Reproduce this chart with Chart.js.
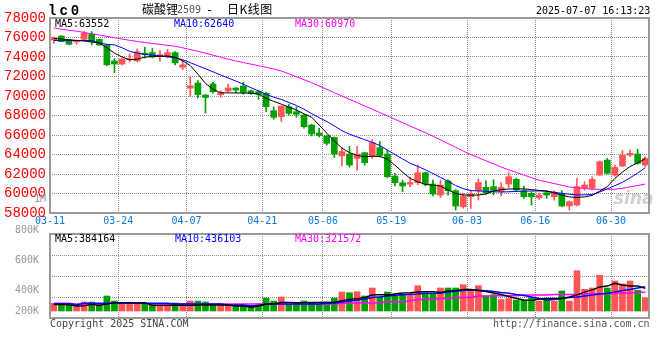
<!DOCTYPE html>
<html><head><meta charset="utf-8">
<script src="https://cdn.jsdelivr.net/npm/chart.js@4.4.1/dist/chart.umd.min.js"></script>
<style>
html,body{margin:0;padding:0;background:#fff;}
#wrap{position:relative;width:660px;height:360px;overflow:hidden;background:#fff;}
canvas{position:absolute;left:0;top:0;}
.t{position:absolute;white-space:pre;font-family:"DejaVu Sans Mono",monospace;font-size:10px;line-height:10px;}
</style></head><body>
<div id="wrap">
<canvas id="k" width="660" height="360"></canvas>
<canvas id="v" width="660" height="360"></canvas>
<div class="t" style="left:48px;top:4px;font:bold 14px 'Liberation Mono',monospace;line-height:14px;letter-spacing:3px;color:#000;">lc0</div>
<div class="t" style="left:142px;top:3px;font:12px 'Noto Sans CJK SC';line-height:12px;color:#000;">碳酸锂</div>
<div class="t" style="left:177px;top:5px;color:#555;">2509</div>
<div class="t" style="left:206px;top:4px;font:12px 'DejaVu Sans Mono';line-height:12px;color:#000;">-</div>
<div class="t" style="left:227px;top:3px;font:12px 'Noto Sans CJK SC';line-height:12px;letter-spacing:0.5px;color:#000;">日K线图</div>
<div class="t" style="left:536px;top:6px;color:#000;">2025-07-07 16:13:23</div>
<div class="t" style="left:55px;top:19px;color:#000;">MA5:63552</div>
<div class="t" style="left:174px;top:19px;color:#0000ff;">MA10:62640</div>
<div class="t" style="left:295px;top:19px;color:#ff00ff;">MA30:60970</div>
<div class="t" style="left:55px;top:234px;color:#000;">MA5:384164</div>
<div class="t" style="left:175px;top:234px;color:#0000ff;">MA10:436103</div>
<div class="t" style="left:295px;top:234px;color:#ff00ff;">MA30:321572</div>
<div class="t" style="left:50px;top:319px;color:#444;">Copyright 2025 SINA.COM</div>
<div class="t" style="left:493px;top:319px;color:#555;">http://finance.sina.com.cn</div>
<div class="t" style="left:614px;top:190px;font:italic bold 17px 'DejaVu Sans';line-height:17px;color:rgba(150,150,150,0.45);">sina</div>
</div>
<script>
const categories = ['03-11','03-12','03-13','03-14','03-17','03-18','03-19','03-20','03-21','03-24','03-25','03-26','03-27','03-28','03-31','04-01','04-02','04-03','04-07','04-08','04-09','04-10','04-11','04-14','04-15','04-16','04-17','04-18','04-21','04-22','04-23','04-24','04-25','04-28','04-29','04-30','05-06','05-07','05-08','05-09','05-12','05-13','05-14','05-15','05-16','05-19','05-20','05-21','05-22','05-23','05-26','05-27','05-28','05-29','05-30','06-03','06-04','06-05','06-06','06-09','06-10','06-11','06-12','06-13','06-16','06-17','06-18','06-19','06-20','06-23','06-24','06-25','06-26','06-27','06-30','07-01','07-02','07-03','07-04'];
const tickDates = ['03-11','03-24','04-07','04-21','05-06','05-19','06-03','06-16','06-30'];

const opens = [75750,76150,75740,75550,75815,76330,75815,75230,73590,73280,73700,73590,74400,74450,74030,74100,74450,72950,70800,71330,70100,71230,70130,70510,70820,71020,70540,70440,70270,68490,67880,68900,68390,68050,67020,66200,65900,65750,63850,64050,63600,64180,63800,64700,64050,61790,61100,60950,61120,62130,60970,59840,61280,60290,58640,59670,60290,60630,60700,60190,60970,61450,60290,60020,59570,60080,59670,60020,58720,58810,60530,60530,61890,63430,61890,62820,63940,64050,62920];
const highs = [76050,76200,75760,75750,76600,76600,75850,75300,73830,73850,74300,74820,75000,74900,74650,74800,74550,73700,72000,71570,70150,71400,70540,71230,70850,71400,70600,70610,70400,68900,69000,69180,68900,68100,67100,66700,66000,65800,64730,64830,64830,64200,65550,65340,64450,62070,61380,61680,62920,62200,61380,61380,61400,60400,60000,60360,61480,61310,61400,61110,62130,61550,60770,60190,60020,60290,60290,60290,59240,61550,61210,61720,63350,63600,62920,64390,64450,64530,63770];
const lows = [75400,75550,75250,75300,75750,75230,75200,73080,72390,73200,73500,73500,73900,73900,73560,73900,73200,72700,69950,69800,68250,70300,69870,70400,70340,70170,70170,69660,68390,67610,67400,68050,67810,66700,65900,65800,64950,63700,62820,62700,62400,62900,63600,63750,61600,60770,60190,60700,60900,60770,59740,59610,59840,58300,58470,58470,59330,59950,59850,59740,60610,60190,59500,58810,59400,59500,59330,58640,58300,58720,60350,60360,61860,62000,61790,62750,63770,63000,62750];
const closes = [76000,75570,75300,75650,76430,75570,75230,73200,73280,73800,73800,74540,74250,74000,74230,74450,73400,73200,71050,70150,69850,70440,70340,70820,70610,70370,70280,70170,68900,67810,68970,68220,68120,66850,66100,65950,65150,64050,64300,62920,64050,63160,65210,63900,61720,61100,60770,61120,62130,60970,59950,60870,60290,58720,59740,59950,61120,60080,60300,60630,61720,60360,59670,59670,59840,59840,60120,58720,59150,60700,60870,61450,63260,62070,62680,63940,64120,63090,63600];

const ma5 = [75900,75840,75770,75700,75640,75540,75440,74950,74400,74000,73720,73780,73980,74060,74080,74100,73980,73600,73120,72250,71300,70700,70330,70320,70310,70300,70290,70200,69760,69450,69170,68850,68560,68170,67830,67020,66200,65400,64650,64200,63900,63760,63830,63800,63520,62900,62200,61550,61200,60930,60850,60780,60350,60000,59850,59840,59840,59950,60250,60400,60460,60470,60470,60400,60320,60250,60050,59820,59650,59600,59650,59800,60250,60700,61550,62200,62770,63150,63550];
const ma10 = [75700,75700,75700,75690,75690,75680,75450,75300,75240,74950,74580,74400,74260,74180,74100,74020,73920,73720,73420,73100,72800,72480,72160,71850,71540,71200,70850,70510,70180,69880,69650,69340,69030,68640,68200,67780,67390,66930,66450,66080,65800,65520,65240,64930,64450,64000,63550,63100,62780,62440,62060,61650,61240,60820,60500,60300,60260,60220,60180,60150,60180,60210,60240,60260,60260,60240,60130,60010,59920,59850,59860,59890,60150,60480,60800,61150,61600,62100,62640];
const ma30 = [76974,76860,76750,76640,76520,76385,76250,76110,75975,75845,75710,75597,75490,75390,75295,75200,75105,74940,74760,74585,74390,74185,73980,73775,73595,73430,73270,73110,72945,72780,72575,72270,71970,71670,71365,71030,70690,70340,70000,69660,69320,68980,68640,68300,67950,67610,67267,66924,66580,66240,65885,65500,65120,64740,64350,63995,63675,63355,63035,62715,62425,62160,61890,61625,61360,61195,61020,60850,60670,60580,60510,60440,60430,60430,60440,60530,60680,60820,60970];

const volumes = [154000,154000,152000,150000,180000,178000,120000,300000,200000,134000,132000,166000,134000,134000,132000,134000,160000,134000,200000,198000,180000,134000,132000,134000,114000,114000,112000,140000,260000,200000,280000,134000,166000,200000,180000,134000,134000,260000,380000,366000,386000,300000,460000,286000,380000,300000,334000,346000,506000,366000,354000,460000,460000,460000,526000,420000,506000,300000,326000,230000,250000,216000,216000,266000,196000,230000,196000,400000,196000,806000,434000,460000,716000,460000,600000,540000,600000,416000,264000];
const volMa5 = [126000,126000,124000,100000,102000,134000,114000,140000,166000,168000,166000,164000,166000,114000,112000,114000,116000,114000,112000,120000,122000,120000,118000,120000,100000,102000,74000,100000,140000,142000,174000,172000,166000,168000,166000,174000,176000,174000,206000,234000,246000,270000,320000,326000,320000,340000,360000,366000,380000,386000,386000,370000,400000,406000,430000,434000,410000,390000,360000,330000,290000,250000,220000,206000,240000,250000,254000,254000,280000,320000,380000,420000,480000,500000,554000,520000,500000,500000,454000];
const volMa10 = [146000,146000,146000,126000,154000,154000,154000,154000,154000,154000,154000,154000,154000,154000,154000,154000,140000,140000,140000,140000,140000,140000,140000,120000,120000,120000,100000,110000,140000,140000,140000,140000,140000,140000,140000,140000,154000,154000,180000,200000,220000,240000,270000,280000,300000,314000,326000,334000,340000,354000,354000,354000,380000,394000,410000,420000,414000,406000,390000,370000,354000,330000,310000,280000,250000,220000,230000,250000,270000,280000,300000,320000,340000,354000,380000,410000,430000,460000,486000];
const volMa30 = [154000,154000,154000,130000,130000,130000,130000,154000,154000,154000,154000,154000,154000,140000,140000,140000,140000,140000,140000,140000,140000,140000,140000,140000,140000,140000,140000,140000,140000,140000,140000,140000,140000,140000,140000,140000,140000,140000,154000,154000,160000,160000,160000,166000,180000,180000,180000,206000,230000,230000,230000,250000,250000,270000,270000,270000,300000,300000,306000,306000,306000,306000,320000,320000,320000,320000,330000,330000,330000,330000,346000,346000,346000,346000,360000,360000,360000,374000,374000];

const priceTicks = [58000,60000,62000,64000,66000,68000,70000,72000,74000,76000,78000];
const volTickLabels = ['800K','600K','400K','200K'];
const volLabelValues = [1540000,940000,330000,-80000];
const volGridValues = [280000,700000,1120000];
const volOverflowValue = 59385; // where Sina's "1M" volume label spills into the price panel

const UP = '#ff5555', DOWN = '#00a000';
const GRID = '#8c8c8c';
const DASH = [1, 1];
const candleColors = closes.map((c, i) => c >= opens[i] ? UP : DOWN);
const isDateTick = i => i > 0 && i < categories.length && tickDates.includes(categories[i]);

const framePlugin = {
  id: 'frame',
  afterDatasetsDraw(chart) {
    const {ctx, chartArea: a} = chart;
    ctx.save();
    ctx.strokeStyle = '#9a9a9a';
    ctx.lineWidth = 2;
    ctx.strokeRect(a.left, a.top, a.right - a.left, a.bottom - a.top);
    ctx.restore();
  }
};

const lineDs = (data, color, yAxisID, w) => ({type: 'line', data, borderColor: color, borderWidth: w || 1, pointRadius: 0, tension: 0, fill: false, yAxisID});

new Chart(document.getElementById('k'), {
  type: 'bar',
  data: {
    labels: categories,
    datasets: [
      lineDs(ma5, '#000000', 'y'),
      lineDs(ma10, '#0000ff', 'y'),
      lineDs(ma30, '#ff00ff', 'y'),
      {data: opens.map((o, i) => [o, closes[i]]), backgroundColor: candleColors, barThickness: 6, minBarLength: 1, grouped: false, borderWidth: 0},
      {data: lows.map((l, i) => [l, highs[i]]), backgroundColor: candleColors, barThickness: 1, grouped: false, borderWidth: 0}
    ]
  },
  options: {
    responsive: false, animation: false, events: [],
    devicePixelRatio: 1,
    layout: {padding: {left: 0, top: 18, right: 11, bottom: 127}},
    plugins: {legend: {display: false}, tooltip: {enabled: false}},
    scales: {
      x: {
        type: 'category', offset: true,
        afterFit: s => { s.height = 20; },
        grid: {offset: true, drawTicks: false, lineWidth: 1, borderDash: DASH, color: c => isDateTick(c.index) ? GRID : 'rgba(0,0,0,0)'},
        border: {display: false, dash: DASH},
        ticks: {autoSkip: false, maxRotation: 0, padding: 2, labelOffset: -3.79, color: '#0a78dc',
          font: {family: 'DejaVu Sans Mono', size: 10},
          callback: (v, i) => tickDates.includes(categories[i]) ? categories[i] : ''}
      },
      y: {
        position: 'left', min: 58000, max: 78000,
        afterBuildTicks: s => { s.ticks = priceTicks.map(v => ({value: v})).concat([{value: volOverflowValue}]); },
        afterFit: s => { s.width = 50; },
        grid: {drawTicks: false, lineWidth: 1, borderDash: DASH,
          color: c => (c.tick && c.tick.value > 58000 && c.tick.value < 78000 && c.tick.value !== volOverflowValue) ? GRID : 'rgba(0,0,0,0)'},
        border: {display: false, dash: DASH},
        ticks: {autoSkip: false, padding: 4,
          color: c => (c.tick && c.tick.value === volOverflowValue) ? '#999999' : '#ff0000',
          font: c => (c.tick && c.tick.value === volOverflowValue) ? {family: 'DejaVu Sans Mono', size: 10} : {family: 'Liberation Mono', size: 14},
          callback: v => v === volOverflowValue ? '1M' : String(v)}
      }
    }
  },
  plugins: [framePlugin]
});

new Chart(document.getElementById('v'), {
  type: 'bar',
  data: {
    labels: categories,
    datasets: [
      lineDs(volMa5, '#000000', 'y', 1.3),
      lineDs(volMa10, '#0000ff', 'y', 1.5),
      lineDs(volMa30, '#ff00ff', 'y', 1.6),
      {data: volumes, backgroundColor: candleColors, barThickness: 6, grouped: false, borderWidth: 0, yAxisID: 'y'}
    ]
  },
  options: {
    responsive: false, animation: false, events: [],
    devicePixelRatio: 1,
    layout: {padding: {left: 0, top: 234, right: 11, bottom: 42}},
    plugins: {legend: {display: false}, tooltip: {enabled: false}},
    scales: {
      x: {
        type: 'category', offset: true,
        afterFit: s => { s.height = 0; },
        grid: {offset: true, drawTicks: false, lineWidth: 1, borderDash: DASH, color: c => isDateTick(c.index) ? GRID : 'rgba(0,0,0,0)'},
        border: {display: false, dash: DASH},
        ticks: {display: false, autoSkip: false}
      },
      y: {
        position: 'left', min: -140000, max: 1540000,
        afterBuildTicks: s => { s.ticks = volGridValues.map(v => ({value: v})); },
        afterFit: s => { s.width = 0; },
        grid: {drawTicks: false, lineWidth: 1, borderDash: DASH, color: GRID},
        border: {display: false, dash: DASH},
        ticks: {display: false}
      },
      yl: {
        position: 'left', min: -140000, max: 1540000,
        afterBuildTicks: s => { s.ticks = volLabelValues.map(v => ({value: v})); },
        afterFit: s => { s.width = 50; },
        grid: {display: false},
        border: {display: false},
        ticks: {autoSkip: false, padding: 3, labelOffset: -4, color: '#999999', font: {family: 'DejaVu Sans Mono', size: 10},
          callback: (v, i) => volTickLabels[i]}
      }
    }
  },
  plugins: [framePlugin]
});
</script>
</body></html>
